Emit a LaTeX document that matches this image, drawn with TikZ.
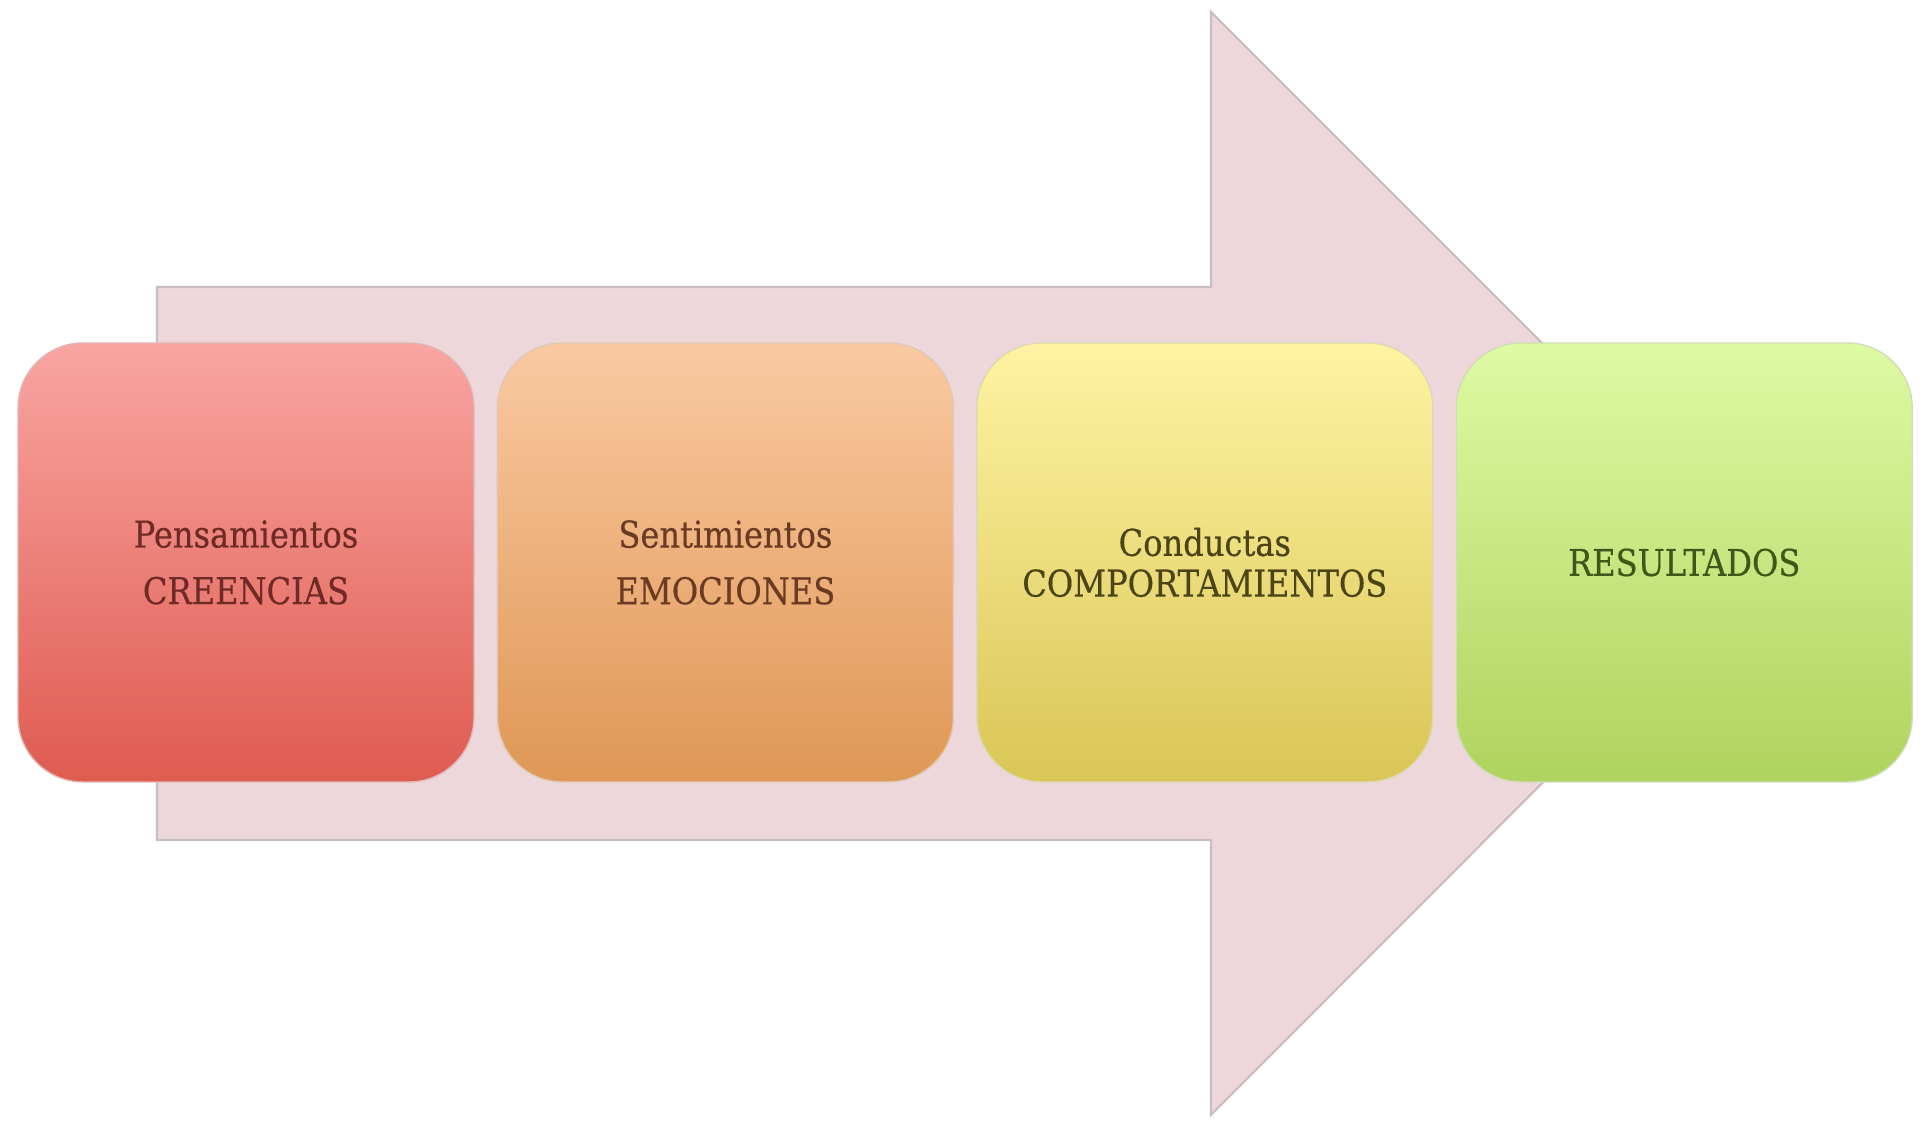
\documentclass[tikz,border=0pt]{standalone}
\usepackage{fontspec}
\setmainfont{DejaVu Serif}[FakeStretch=0.87, FakeBold=0.4]
\usetikzlibrary{positioning}

\definecolor{arrowpink}{HTML}{EDD7DA}
\definecolor{arrowedge}{HTML}{C9BDBF}
\definecolor{redtop}{HTML}{F9A5A2}
\definecolor{redbot}{HTML}{DF5B50}
\definecolor{orangetop}{HTML}{FAC9A2}
\definecolor{orangebot}{HTML}{DF9755}
\definecolor{yellowtop}{HTML}{FFF3A3}
\definecolor{yellowbot}{HTML}{D9C656}
\definecolor{greentop}{HTML}{DEFAA3}
\definecolor{greenbot}{HTML}{AFD35E}
\definecolor{redtext}{HTML}{6E2A25}
\definecolor{orangetext}{HTML}{6A3A22}
\definecolor{yellowtext}{HTML}{4B4416}
\definecolor{greentext}{HTML}{3D5818}

\tikzset{
  stagebox/.style={rectangle, rounded corners=0.65cm, minimum width=4.56cm,
    minimum height=4.39cm, align=center, inner sep=0pt,
    font=\fontsize{10.5}{11.6}\selectfont},
}

\begin{document}
\begin{tikzpicture}
    \useasboundingbox (0,0) rectangle (19.21,11.24);

    % Draw the big pink arrow behind the boxes
    \draw[fill=arrowpink, draw=arrowedge, line width=0.6pt]
      (1.57,8.37) -- (12.11,8.37) -- (12.11,11.12) -- (17.62,5.61)
      -- (12.11,0.09) -- (12.11,2.84) -- (1.57,2.84) -- cycle;

    % Draw the four stages, one next to the other
    \node[stagebox, top color=redtop, bottom color=redbot, draw=redbot!80!black!40,
          text=redtext] (pens) at (2.46,5.615) {Pensamientos\\[4.5pt]CREENCIAS};
    \node[stagebox, top color=orangetop, bottom color=orangebot, draw=orangebot!80!black!40,
          text=orangetext, right=0.22cm of pens] (sent) {Sentimientos\\[4.5pt]EMOCIONES};
    \node[stagebox, top color=yellowtop, bottom color=yellowbot, draw=yellowbot!80!black!40,
          text=yellowtext, right=0.22cm of sent] (cond) {Conductas\\COMPORTAMIENTOS};
    \node[stagebox, top color=greentop, bottom color=greenbot, draw=greenbot!80!black!40,
          text=greentext, right=0.22cm of cond] (res) {RESULTADOS};

\end{tikzpicture}
\end{document}
